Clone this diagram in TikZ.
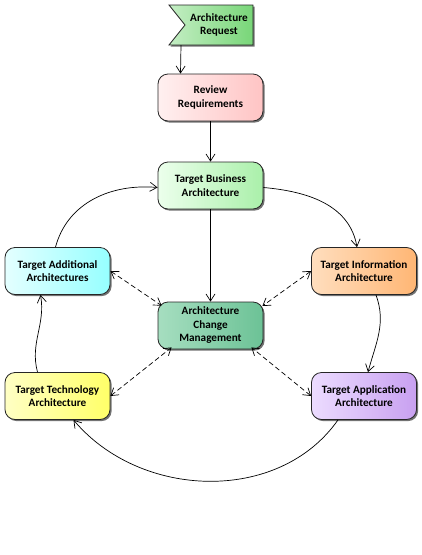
\documentclass[tikz,border=0pt]{standalone}
\usepackage{fontspec}
\setmainfont{Carlito}
\usetikzlibrary{arrows.meta,shadows,backgrounds}
\definecolor{reqL}{RGB}{196,238,196}\definecolor{reqR}{RGB}{120,214,120}
\definecolor{revL}{RGB}{255,240,240}\definecolor{revR}{RGB}{255,196,196}
\definecolor{busL}{RGB}{236,255,236}\definecolor{busR}{RGB}{170,240,170}
\definecolor{addL}{RGB}{228,255,255}\definecolor{addR}{RGB}{150,255,255}
\definecolor{infL}{RGB}{255,222,190}\definecolor{infR}{RGB}{255,182,116}
\definecolor{acmL}{RGB}{166,222,192}\definecolor{acmR}{RGB}{108,194,150}
\definecolor{tecL}{RGB}{255,255,196}\definecolor{tecR}{RGB}{255,255,104}
\definecolor{appL}{RGB}{236,220,255}\definecolor{appR}{RGB}{200,160,240}
\begin{document}
\begin{tikzpicture}[x=1pt,y=-1pt,
  lbl/.style={align=center,font=\bfseries\fontsize{11.2}{13.5}\selectfont},
  box/.style={lbl,draw=black!85,line width=0.8pt,rounded corners=10pt,minimum width=105pt,minimum height=47pt,inner sep=1pt,
    drop shadow={shadow xshift=1.6pt,shadow yshift=-1.6pt,fill=black!55,opacity=1}},
  conn/.style={draw=black,line width=0.7pt,-{Straight Barb[length=7pt,width=9pt,line width=0.7pt]}},
  dconn/.style={draw=black,line width=0.7pt,dash pattern=on 5pt off 3pt,{Straight Barb[length=7pt,width=9pt,line width=0.7pt]}-{Straight Barb[length=7pt,width=9pt,line width=0.7pt]}}]
\useasboundingbox (0,0) rectangle (422,555);
% flag
\path[draw=black!85,line width=0.8pt,left color=reqL,right color=reqR,
  drop shadow={shadow xshift=1.6pt,shadow yshift=-1.6pt,fill=black!55,opacity=1}]
  (169,5) -- (253,5) -- (253,45) -- (169,45) -- (185,25) -- cycle;
\node[lbl,inner sep=0pt,minimum width=84pt,minimum height=40pt] (req) at (211,25) {\hspace*{16pt}Architecture\\\hspace*{16pt}Request};
\node[box,left color=revL,right color=revR] (rev) at (210.5,97.5) {Review\\Requirements};
\node[box,left color=busL,right color=busR] (bus) at (210.5,185.5) {Target Business\\Architecture};
\node[box,left color=addL,right color=addR] (add) at (57.5,271) {Target Additional\\Architectures};
\node[box,left color=infL,right color=infR] (inf) at (364,271) {Target Information\\Architecture};
\node[box,left color=acmL,right color=acmR] (acm) at (210.5,325.5) {Architecture\\Change\\Management};
\node[box,left color=tecL,right color=tecR] (tec) at (57.5,396) {Target Technology\\Architecture};
\node[box,left color=appL,right color=appR] (app) at (364,396) {Target Application\\Architecture};
% connectors
\draw[conn] ([xshift=-30pt]req.south) -- ([xshift=-30pt]rev.north);
\draw[conn] (rev) -- (bus);
\draw[conn] (bus) -- (acm);
\draw[conn] ([yshift=-2pt]bus.east) to[out=-5,in=100] ([xshift=-7pt]inf.north);
\draw[conn] ([xshift=12pt]inf.south) to[out=-70,in=75] ([xshift=4pt]app.north);
\draw[conn] ([xshift=-26pt]app.south) to[out=-125,in=-50] ([xshift=16pt]tec.south);
\draw[conn] ([xshift=-20pt]tec.north) to[out=105,in=-80] ([xshift=-17pt]add.north |- add.south);
\draw[conn] ([xshift=-2pt]add.north) to[out=75,in=175] ([yshift=-2pt]bus.west);
\draw[dconn] (add.east) -- ([xshift=4pt,yshift=-4pt]acm.north west);
\draw[dconn] (inf.west) -- ([xshift=-1pt,yshift=-1pt]acm.north east |- 0,305);
\draw[dconn] (tec.east) -- ([xshift=14pt,yshift=2pt]acm.south west);
\draw[dconn] (app.west) -- ([xshift=-12pt,yshift=2pt]acm.south east);
\end{tikzpicture}
\end{document}
